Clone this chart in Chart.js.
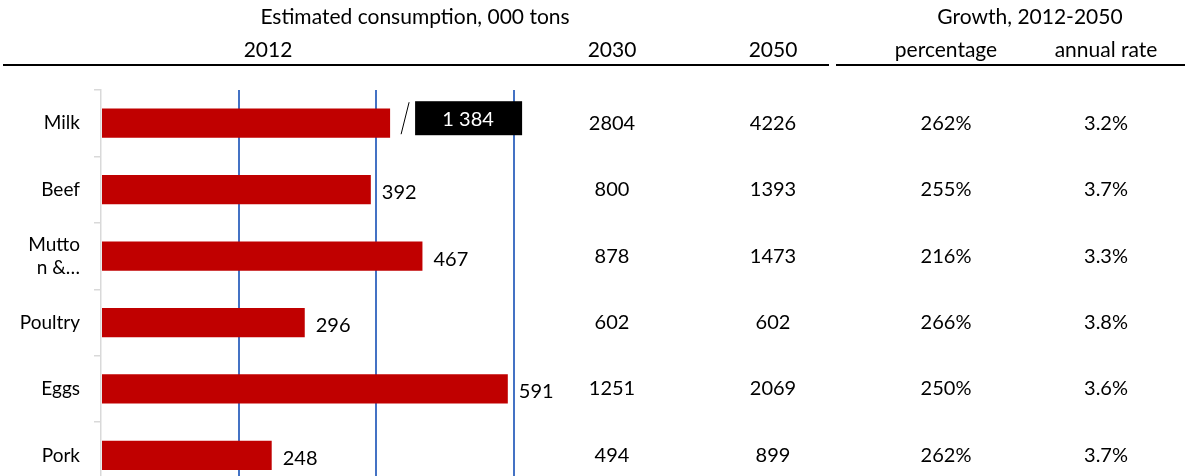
<!DOCTYPE html>
<html>
<head>
<meta charset="utf-8">
<script src="https://cdn.jsdelivr.net/npm/chart.js@4.4.1/dist/chart.umd.min.js"></script>
<style>
  html, body { margin: 0; padding: 0; background: #fff; overflow: hidden; }
  #wrap { width: 1185px; height: 514px; position: relative; }
</style>
</head>
<body>
<div id="wrap"><canvas id="consumption"></canvas></div>
<script>
const products = ['Milk', 'Beef', ['Mutto', 'n &\u2026'], 'Poultry', 'Eggs', 'Pork']
const tons2012 = [1384, 392, 467, 296, 591, 248]
const tons2030 = [2804, 800, 878, 602, 1251, 494]
const tons2050 = [4226, 1393, 1473, 602, 2069, 899]
const growthPct = ['262%', '255%', '216%', '266%', '250%', '262%']
const annualRate = ['3.2%', '3.7%', '3.3%', '3.8%', '3.6%', '3.7%']
const axisTicks = [200, 400, 600]

// values past the axis end are drawn as a cut bar of this length
const axisMax = axisTicks[axisTicks.length - 1]
const cutLength = 420
const FONT = 'Lato, "Liberation Sans", sans-serif'
const red = '#C00000'
const blue = '#4472C4'

// table columns to the right of the bars
const columns = [
    {x: 612, values: tons2030.map(String)},
    {x: 773, values: tons2050.map(String)},
    {x: 946, values: growthPct},
    {x: 1106, values: annualRate}
]

const tablePlugin = {
    id: 'table',
    afterDraw(chart) {
        const c = chart.ctx
        const yScale = chart.scales.y
        c.save()
        c.fillStyle = '#000'
        c.textAlign = 'center'
        c.textBaseline = 'middle'
        c.font = `21px ${FONT}`
        c.fillText('Estimated consumption, 000 tons', 415, 17)
        c.fillText('Growth, 2012-2050', 1030, 17)
        c.fillText('2012', 268, 50)
        c.fillText('2030', 612, 50)
        c.fillText('2050', 773, 50)
        c.fillText('percentage', 946, 50)
        c.fillText('annual rate', 1106, 50)

        c.strokeStyle = '#000'
        c.lineWidth = 2
        c.beginPath()
        c.moveTo(3, 65); c.lineTo(829, 65)
        c.moveTo(836, 65); c.lineTo(1185, 65)
        c.stroke()

        c.font = `20px ${FONT}`
        columns.forEach(col => {
            col.values.forEach((v, i) => {
                c.fillText(v, col.x, yScale.getPixelForValue(i))
            })
        })
        c.restore()
    }
}

const barLabelPlugin = {
    id: 'barLabels',
    afterDatasetsDraw(chart) {
        const c = chart.ctx
        const meta = chart.getDatasetMeta(0)
        c.save()
        c.textBaseline = 'middle'
        meta.data.forEach((bar, i) => {
            const v = tons2012[i]
            if (v > axisMax) {
                // break mark, then the real value in a black box
                c.strokeStyle = '#000'
                c.lineWidth = 1
                c.beginPath()
                c.moveTo(bar.x + 11, bar.y + 11)
                c.lineTo(bar.x + 19, bar.y - 21)
                c.stroke()
                c.fillStyle = '#000'
                c.fillRect(bar.x + 25, bar.y - 22, 107, 34)
                c.fillStyle = '#fff'
                c.textAlign = 'center'
                c.font = `20px ${FONT}`
                c.fillText(v.toLocaleString('fr-FR').replace(/\s/g, ' '), bar.x + 78, bar.y - 4)
            } else {
                c.fillStyle = '#000'
                c.textAlign = 'left'
                c.font = `20px ${FONT}`
                c.fillText(String(v), bar.x + 11, bar.y + 3)
            }
        })
        c.restore()
    }
}

const chart = new Chart(document.getElementById('consumption'), {
    type: 'bar',
    data: {
        labels: products,
        datasets: [{
            data: tons2012.map(v => v > axisMax ? cutLength : v),
            backgroundColor: red,
            borderWidth: 0,
            barPercentage: 0.44,
            categoryPercentage: 1
        }]
    },
    plugins: [tablePlugin, barLabelPlugin],
    options: {
        indexAxis: 'y',
        responsive: true,
        maintainAspectRatio: false,
        animation: false,
        layout: {padding: {top: 90, right: 671, bottom: 12, left: 0}},
        plugins: {legend: {display: false}, tooltip: {enabled: false}},
        scales: {
            x: {
                min: 0,
                max: axisMax,
                afterBuildTicks: scale => { scale.ticks = [0, ...axisTicks].map(v => ({value: v})) },
                ticks: {display: false},
                border: {display: false},
                grid: {
                    drawTicks: false,
                    lineWidth: 2,
                    color: ctx => ctx.tick && ctx.tick.value === 0 ? 'rgba(0,0,0,0)' : blue
                }
            },
            y: {
                afterFit: scale => { scale.width = 101 },
                ticks: {color: '#000', font: {family: FONT, size: 19}, padding: 14},
                border: {display: true, color: '#d9d9d9', width: 1.5},
                grid: {drawOnChartArea: false, drawTicks: true, tickLength: 7, color: '#d9d9d9', lineWidth: 1.5}
            }
        }
    }
})
</script>
</body>
</html>
